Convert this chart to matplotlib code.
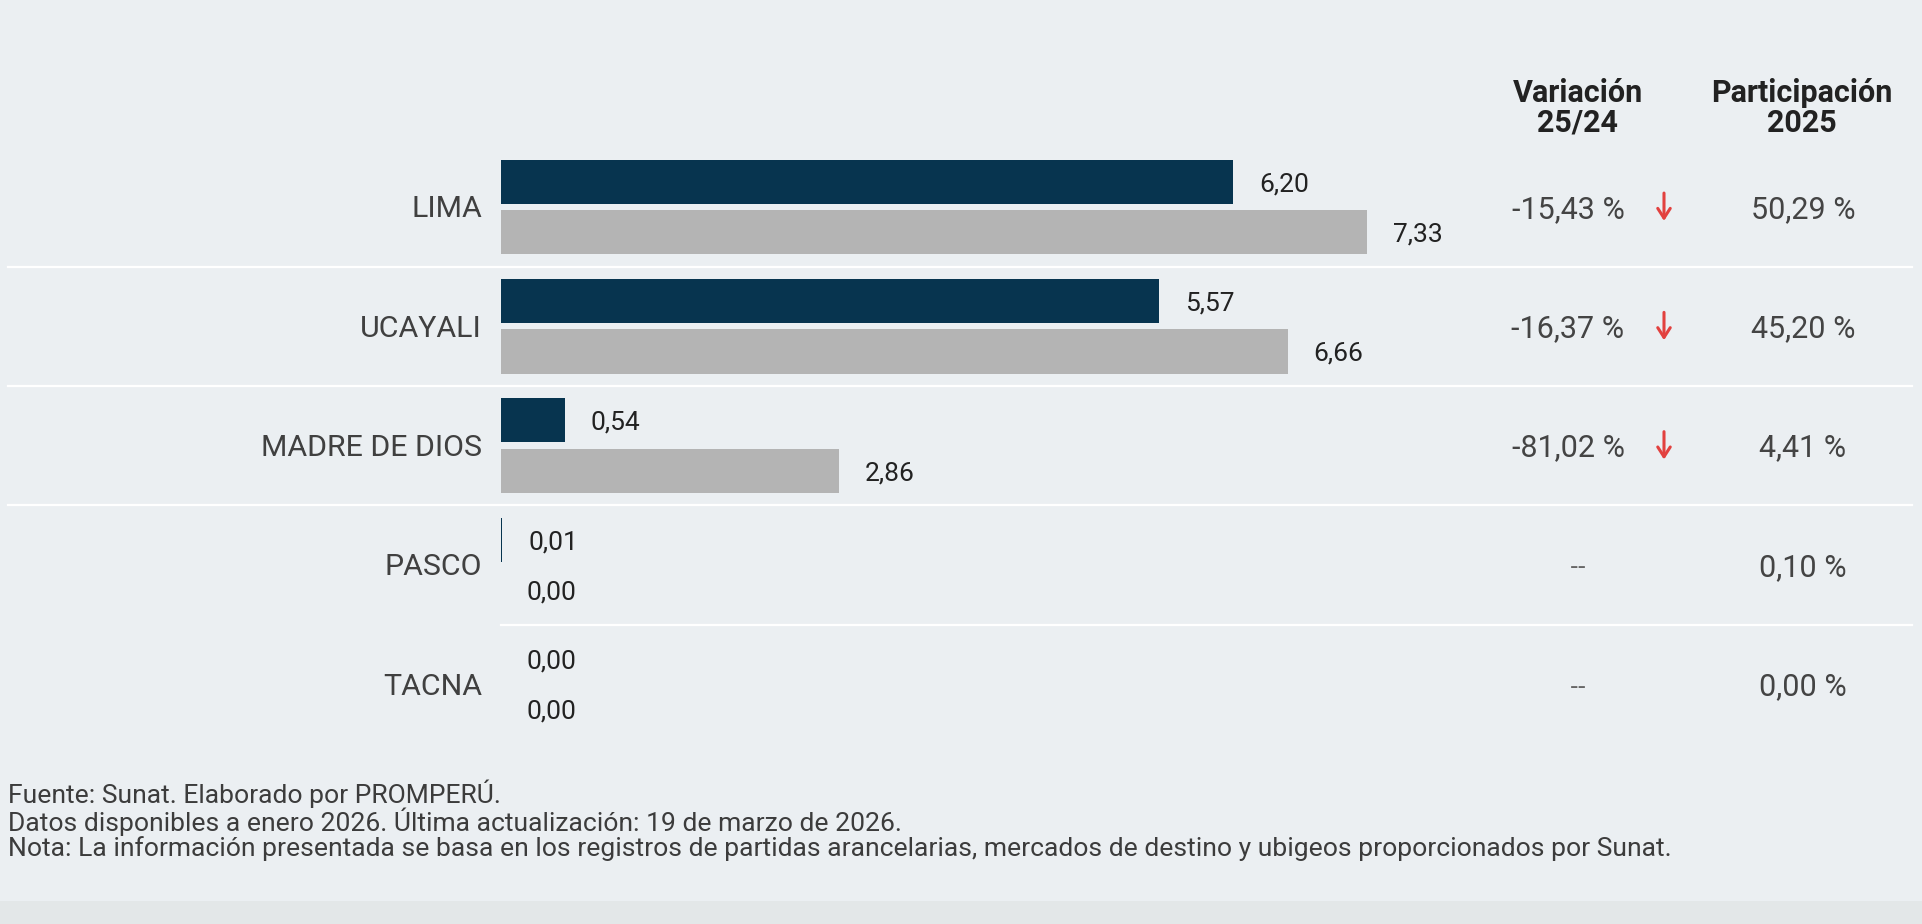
import matplotlib
matplotlib.use("Agg")
import matplotlib.pyplot as plt
import matplotlib.transforms as mtransforms
from matplotlib.patches import Rectangle

plt.rcParams['font.family'] = ['Roboto', 'DejaVu Sans']

# datos
regiones = ["LIMA", "UCAYALI", "MADRE DE DIOS", "PASCO", "TACNA"]
valores_2025 = [6.20, 5.57, 0.54, 0.01, 0.00]
valores_2024 = [7.33, 6.66, 2.86, 0.00, 0.00]
variacion = [-15.43, -16.37, -81.02, None, None]
participacion = [50.29, 45.20, 4.41, 0.10, 0.00]
notas = [
    "Fuente: Sunat. Elaborado por PROMPERÚ.",
    "Datos disponibles a enero 2026. Última actualización: 19 de marzo de 2026.",
    "Nota: La información presentada se basa en los registros de partidas arancelarias, "
    "mercados de destino y ubigeos proporcionados por Sunat.",
]

fondo = "#ebeff2"
azul = "#07344f"
gris = "#b4b4b4"
rojo = "#e2413f"
W, H = 1922, 924


def coma(v):
    return f"{v:.2f}".replace(".", ",")


fig = plt.figure(figsize=(W / 100, H / 100), dpi=100, facecolor=fondo)
fig.patches.append(Rectangle((0, 0), 1, 23 / H, transform=fig.transFigure,
                             facecolor="#e3e7e8", edgecolor="none", zorder=0))

# eje de barras: fila i centrada en y=i
ax = fig.add_axes([501 / W, 1 - 743.85 / H, 1000 / W, 596.5 / H])
ax.set_facecolor("none")
ax.set_xlim(0, 1000 / 118.1)
ax.set_ylim(4.5, -0.5)
ax.axis("off")

n = len(regiones)
ys = list(range(n))
alto = 0.37
dy = 0.02  # pequeño ajuste vertical del texto
ax.barh([y - 0.211 for y in ys], valores_2025, height=alto, color=azul, zorder=3)
ax.barh([y + 0.211 for y in ys], valores_2024, height=alto, color=gris, zorder=3)

off = 26 / 118.1
for i in range(n):
    ax.text(valores_2025[i] + off, i - 0.211 + dy, coma(valores_2025[i]), ha="left",
            va="center", fontsize=19, color="#222222")
    ax.text(valores_2024[i] + off, i + 0.211 + dy, coma(valores_2024[i]), ha="left",
            va="center", fontsize=19, color="#222222")
    ax.text(-19 / 118.1, i + dy, regiones[i], ha="right", va="center", fontsize=21.8,
            color="#404040")

trans = mtransforms.blended_transform_factory(fig.transFigure, ax.transData)

# separadores
for i in range(n - 1):
    x0 = 8 / W if i < n - 2 else 501 / W
    ax.plot([x0, 1912 / W], [i + 0.5, i + 0.5], transform=trans, color="white",
            lw=1.6, clip_on=False, zorder=1)

# columnas de la tabla
for i in range(n):
    if variacion[i] is None:
        ax.text(1578 / W, i + dy, "--", transform=trans, ha="center", va="center",
                fontsize=17, family="DejaVu Sans", color="#666666")
    else:
        ax.text(1568 / W, i + dy, coma(variacion[i]) + " %", transform=trans, ha="center",
                va="center", fontsize=22, color="#444444")
        ax.annotate("", xy=(1664 / W, i + 0.14), xytext=(1664 / W, i - 0.14),
                    xycoords=trans, textcoords=trans,
                    arrowprops=dict(arrowstyle="->,head_length=0.7,head_width=0.45",
                                    color=rojo, lw=2.2))
    ax.text(1803 / W, i + dy, coma(participacion[i]) + " %", transform=trans, ha="center",
            va="center", fontsize=22, color="#444444")

# encabezados
fig.text(1578 / W, 1 - 93 / H, "Variación", ha="center", va="center", fontsize=22,
         fontweight="bold", color="#222222")
fig.text(1578 / W, 1 - 123 / H, "25/24", ha="center", va="center", fontsize=22,
         fontweight="bold", color="#222222")
fig.text(1802 / W, 1 - 93 / H, "Participación", ha="center", va="center", fontsize=22,
         fontweight="bold", color="#222222")
fig.text(1802 / W, 1 - 123 / H, "2025", ha="center", va="center", fontsize=22,
         fontweight="bold", color="#222222")

# notas al pie
for k, linea in enumerate(notas):
    fig.text(8 / W, 1 - (794 + k * 27.5) / H, linea, ha="left", va="center",
             fontsize=19.05, color="#3c3c3c")

fig.savefig("out.png", dpi=100, facecolor=fondo)
